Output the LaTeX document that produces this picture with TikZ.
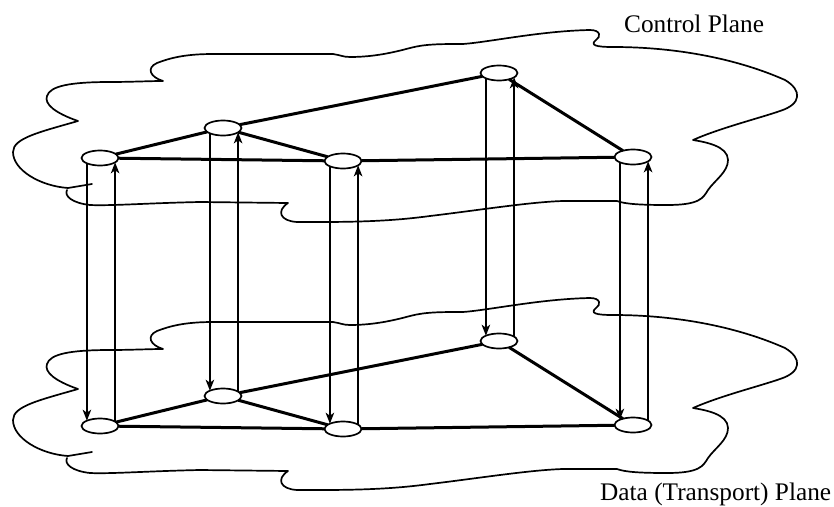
\documentclass[tikz,border=0pt]{standalone}
\usepackage{fontspec}
\setmainfont{Liberation Serif}
\usetikzlibrary{arrows.meta,shapes.geometric}
\begin{document}
\begin{tikzpicture}[x=1pt,y=-1pt,
  plane/.style={line width=1.7pt, line join=round, line cap=round},
  router/.style={ellipse, draw, line width=1.7pt, fill=white, minimum width=37pt, minimum height=15pt, inner sep=0pt, outer sep=0pt},
  link/.style={line width=3pt},
  vert/.style={line width=1.7pt, -{Stealth[length=11pt,width=8.5pt,inset=3pt]}},
  lbl/.style={font=\fontsize{25.3}{30}\selectfont, inner sep=0pt, anchor=base west}]
\useasboundingbox (0,0) rectangle (834,506);
\def\cloud{\draw[plane] (92,184) -- (68,188)
  .. controls (40,186) and (13,170) .. (13,152)
  .. controls (13,138) and (40,132) .. (78,121)
  .. controls (55,113) and (44,104) .. (47,96)
  .. controls (50,86) and (70,82) .. (110,82)
  .. controls (130,82) and (150,81) .. (163,81)
  .. controls (150,77) and (146,68) .. (157,63)
  .. controls (170,58) and (185,54) .. (213,54)
  -- (333,54)
  .. controls (340,55) and (343,57) .. (350,57)
  .. controls (375,57) and (395,52) .. (410,48)
  .. controls (425,44) and (440,44) .. (463,44)
  .. controls (490,42) and (540,31) .. (590,30)
  .. controls (601,30) and (601,37) .. (596,40)
  .. controls (590,45) and (595,47) .. (613,47)
  .. controls (680,47) and (740,60) .. (785,80)
  .. controls (802,90) and (802,104) .. (780,111)
  .. controls (760,118) and (720,128) .. (693,140)
  .. controls (705,142) and (728,146) .. (728,160)
  .. controls (728,172) and (715,180) .. (708,190)
  .. controls (703,198) and (700,205) .. (667,205)
  .. controls (640,205) and (625,204) .. (617,201)
  -- (563,201)
  .. controls (530,202) and (480,210) .. (430,216)
  .. controls (400,220) and (370,222) .. (320,222)
  -- (297,222)
  .. controls (280,221) and (276,211) .. (288,203)
  -- (200,202)
  .. controls (150,203) and (110,206) .. (90,205)
  .. controls (72,203) and (64,196) .. (67,190);}
% clouds
\cloud
\begin{scope}[shift={(0,268)}]
\cloud
\end{scope}
% routers
\node[router] (T1) at (100,158) {};
\node[router] (T2) at (223,128) {};
\node[router] (T3) at (343,161) {};
\node[router] (T4) at (499,73) {};
\node[router] (T5) at (633,157) {};
\node[router] (B1) at (100,426) {};
\node[router] (B2) at (223,396) {};
\node[router] (B3) at (343,429) {};
\node[router] (B4) at (499,341) {};
\node[router] (B5) at (633,425) {};
% links
\foreach \p in {T,B}{
  \draw[link] (\p1) -- (\p2);
  \draw[link] (\p1) -- (\p3);
  \draw[link] (\p2) -- (\p3);
  \draw[link] (\p2) -- (\p4);
  \draw[link] (\p3) -- (\p5);
  \draw[link] (\p4) -- (\p5);
}
% vertical arrows
\foreach \i in {1,...,5}{
  \draw[vert] (T\i.202) -- (B\i.158);
  \draw[vert] (B\i.16) -- (T\i.-16);
}
% labels
\node[lbl] (cp) at (624,32) {Control Plane};
\node[lbl] (dp) at (600,500) {Data (Transport) Plane};
\end{tikzpicture}
\end{document}
